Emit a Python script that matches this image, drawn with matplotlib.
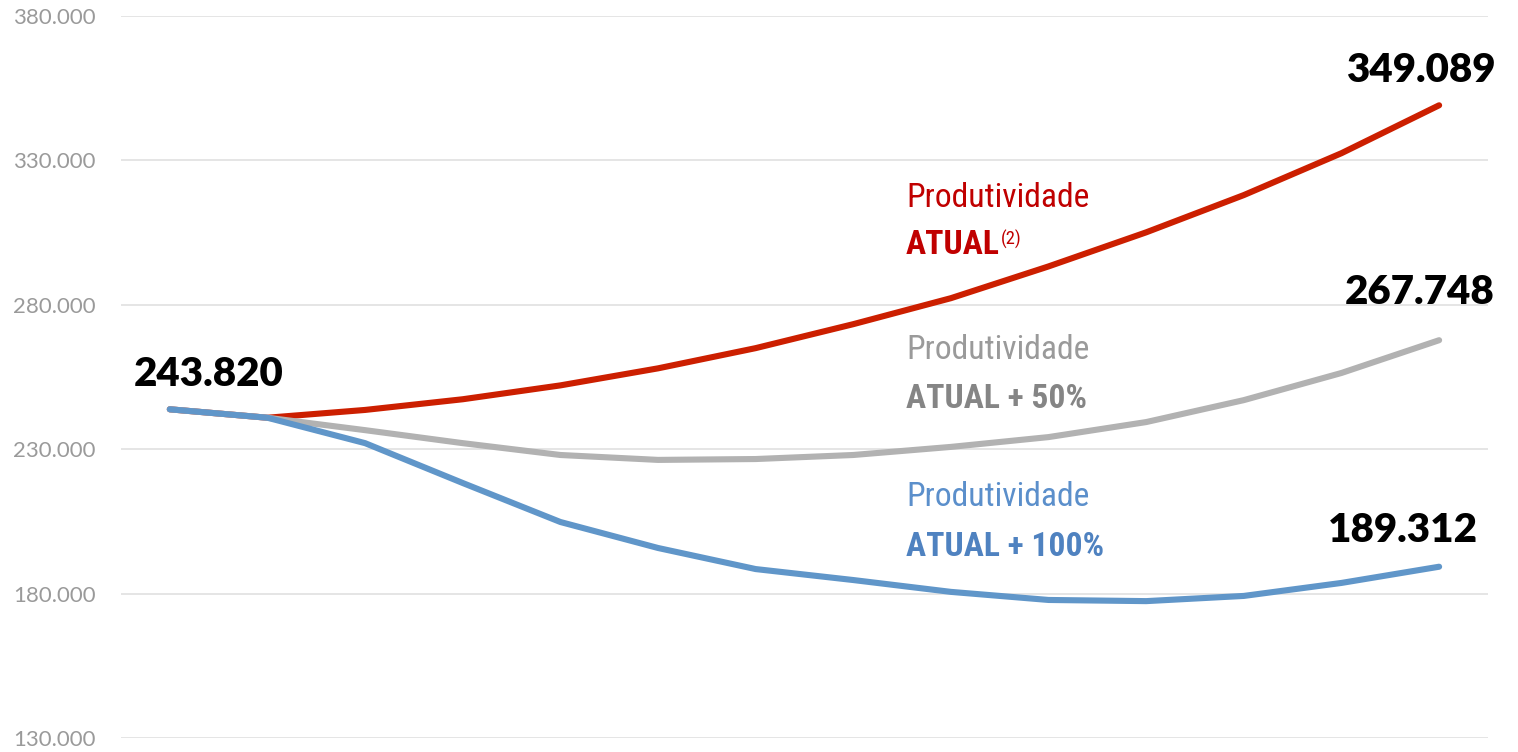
'''Projecao com tres cenarios de produtividade'''
import matplotlib
matplotlib.use('Agg')
import matplotlib.pyplot as plt
from matplotlib import font_manager
from matplotlib.ticker import FuncFormatter

# anos da projecao (eixo x sem rotulos no original)
anos = list(range(2017, 2031))

atual = [243.820, 240.9, 243.6, 247.3, 252.1, 258.0, 265.0, 273.3, 282.3,
         293.3, 305.1, 318.0, 332.5, 349.089]
atual_50 = [243.820, 240.9, 236.6, 232.1, 228.0, 226.3, 226.6, 228.0, 230.8,
            234.2, 239.4, 247.0, 256.4, 267.748]
atual_100 = [243.820, 240.9, 232.1, 218.3, 204.8, 195.8, 188.5, 184.7, 180.6,
             177.8, 177.4, 179.2, 183.7, 189.312]

VERMELHO = '#CC1F00'
CINZA = '#B2B2B2'
AZUL = '#6096C9'

# procura uma fonte estreita (tipo Arial Narrow); senao usa Liberation Sans
nomes = {f.name for f in font_manager.fontManager.ttflist}
estreitas = [f for f in font_manager.fontManager.ttflist
             if f.stretch in ('condensed', 'semi-condensed', 'extra-condensed')
             or 'Narrow' in f.name or 'Condensed' in f.name]
narrow_kw = None
for cand in ['Liberation Sans Narrow', 'Arial Narrow', 'Roboto Condensed',
             'Open Sans Condensed', 'Noto Sans Condensed']:
    if cand in nomes:
        narrow_kw = dict(family=[cand, 'DejaVu Sans'], fontsize=24.2)
        break
if narrow_kw is None and estreitas:
    f = estreitas[0]
    narrow_kw = dict(family=[f.name, 'DejaVu Sans'], fontstretch=f.stretch, fontsize=24.2)
if narrow_kw is None:
    narrow_kw = dict(family=['Liberation Sans', 'DejaVu Sans'], fontsize=21.5)

fig = plt.figure(figsize=(15.18, 7.52), dpi=100)
ax = fig.add_axes([0.0797, 0.0186, 0.9005, 0.9601])

x = list(range(len(anos)))
lw = 4.4
ax.plot(x, [v * 1000 for v in atual], color=VERMELHO, lw=lw,
        solid_capstyle='round', solid_joinstyle='round', zorder=3)
ax.plot(x, [v * 1000 for v in atual_50], color=CINZA, lw=lw,
        solid_capstyle='round', solid_joinstyle='round', zorder=4)
ax.plot(x, [v * 1000 for v in atual_100], color=AZUL, lw=lw,
        solid_capstyle='round', solid_joinstyle='round', zorder=5)

ax.set_xlim(-0.5, len(anos) - 0.5)
ax.set_ylim(130000, 380000)
ax.set_yticks(range(130000, 380001, 50000))
ax.yaxis.set_major_formatter(FuncFormatter(lambda v, p: f'{v:,.0f}'.replace(',', '.')))
ax.set_xticks([])
ax.tick_params(axis='y', length=0, pad=18, labelsize=16, labelcolor='#9A9A9A')
for lbl in ax.get_yticklabels():
    lbl.set_fontfamily(['Lato', 'DejaVu Sans'])
ax.grid(axis='y', color='#E3E3E3', lw=1.3, zorder=0)
for s in ax.spines.values():
    s.set_visible(False)

# rotulos de valor
num_font = dict(fontsize=29, fontweight='heavy', family=['Lato', 'DejaVu Sans'],
                color='black', ha='center', va='center', textcoords='offset points')
ax.annotate(f'{atual[0]:.3f}', (0, atual[0] * 1000), xytext=(28, 25), **num_font)
ax.annotate(f'{atual[-1]:.3f}', (x[-1], atual[-1] * 1000), xytext=(-13, 25), **num_font)
ax.annotate(f'{atual_50[-1]:.3f}', (x[-1], atual_50[-1] * 1000), xytext=(-14, 34), **num_font)
ax.annotate(f'{atual_100[-1]:.3f}', (x[-1], atual_100[-1] * 1000), xytext=(-26, 26), **num_font)

# rotulos dos cenarios
x_txt = 7.54
ax.text(x_txt, 317000, 'Produtividade', color='#C00000', va='center', **narrow_kw)
t_atual = ax.text(x_txt, 300700, 'ATUAL', color='#C00000', fontweight='bold',
                  va='center', **narrow_kw)
ax.text(x_txt, 264300, 'Produtividade', color='#9A9A9A', va='center', **narrow_kw)
ax.text(x_txt, 247400, 'ATUAL + 50%', color='#858585', fontweight='bold',
        va='center', **narrow_kw)
ax.text(x_txt, 213400, 'Produtividade', color='#5B8FCB', va='center', **narrow_kw)
ax.text(x_txt, 196100, 'ATUAL + 100%', color='#4F82C0', fontweight='bold',
        va='center', **narrow_kw)

# nota (2) em sobrescrito logo apos ATUAL
fig.canvas.draw()
bb = t_atual.get_window_extent()
px, py = ax.transData.inverted().transform((bb.x1 + 1, bb.y1 - 1))
sup_kw = dict(narrow_kw)
sup_kw['fontsize'] = narrow_kw['fontsize'] * 0.55
ax.text(px, py, '(2)', color='#C00000', va='top', ha='left', **sup_kw)

fig.savefig('out.png', dpi=100)
